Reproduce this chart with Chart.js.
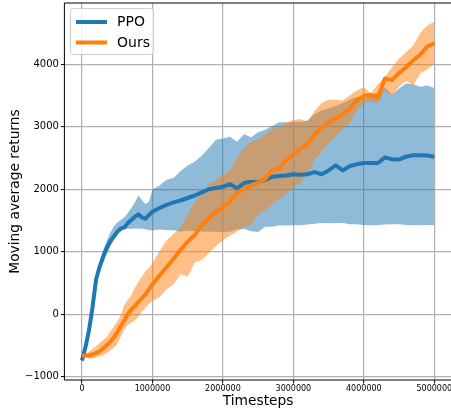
<!DOCTYPE html>
<html><head><meta charset="utf-8">
<script src="https://cdn.jsdelivr.net/npm/chart.js@4"></script>
<style>
html,body{margin:0;padding:0;overflow:hidden;background:#fff;width:451px;height:414px}
#wrap{position:absolute;left:0;top:0;width:480px;height:414px}
</style>
</head><body><div id="wrap"><canvas id="c" width="480" height="414"></canvas></div>
<script>
const timesteps = [0,50000,100000,150000,200000,250000,300000,350000,400000,450000,500000,550000,600000,650000,700000,750000,800000,850000,900000,950000,1000000,
1100000,1200000,1300000,1400000,1500000,1600000,1700000,1800000,1900000,2000000,2100000,2200000,2300000,2400000,2500000,2600000,2700000,2800000,2900000,3000000,
3100000,3200000,3300000,3400000,3500000,3600000,3700000,3800000,3900000,4000000,4100000,4200000,4300000,4400000,4500000,4600000,4700000,4800000,4900000,5000000];

const ppoMean = [-740,-520,-250,120,560,760,920,1060,1170,1240,1320,1370,1390,1460,1510,1560,1600,1550,1530,1590,1640,
1700,1750,1790,1820,1860,1900,1950,2000,2020,2040,2080,2015,2100,2120,2110,2150,2200,2210,2220,2240,
2230,2240,2275,2240,2300,2380,2300,2370,2400,2420,2420,2420,2510,2480,2475,2520,2545,2545,2540,2520];
const ppoHigh = [-700,-470,-180,200,640,850,1020,1170,1300,1400,1470,1510,1550,1620,1700,1790,1900,1830,1760,1800,2000,
2060,2150,2180,2290,2380,2440,2540,2660,2790,2810,2840,2760,2880,2830,2910,2950,3010,3070,3070,3070,
3080,3100,3200,3260,3290,3330,3380,3430,3480,3450,3500,3550,3630,3510,3610,3690,3680,3640,3660,3620];
const ppoLow = [-780,-580,-320,50,480,670,830,960,1080,1180,1300,1350,1365,1370,1370,1372,1370,1370,1360,1345,1345,
1355,1350,1345,1320,1340,1330,1325,1320,1320,1315,1320,1360,1365,1330,1315,1400,1400,1425,1420,1425,
1425,1435,1450,1460,1455,1462,1460,1440,1440,1430,1425,1425,1435,1440,1440,1430,1425,1425,1430,1425];

const oursMean = [-660,-660,-655,-642,-620,-590,-545,-496,-440,-370,-290,-190,-100,0,80,130,200,260,320,400,480,
620,757,890,1035,1160,1270,1420,1530,1640,1715,1800,1940,2010,2065,2100,2165,2310,2330,2470,2550,
2650,2720,2880,2990,3070,3130,3200,3290,3420,3490,3510,3470,3770,3745,3860,3950,4060,4150,4280,4335];
const oursHigh = [-640,-630,-600,-555,-510,-460,-410,-363,-280,-200,-120,-20,150,230,310,430,520,600,690,740,820,
1010,1180,1290,1390,1600,1800,1950,2080,2150,2230,2300,2510,2650,2760,2800,2880,2960,3000,3060,3110,
3120,3080,3250,3380,3430,3430,3420,3500,3580,3630,3530,3680,3800,3950,4090,4190,4300,4500,4620,4680];
const oursLow = [-680,-690,-705,-705,-690,-670,-650,-625,-580,-540,-480,-360,-240,-170,-130,-96,-40,40,100,170,210,
275,400,480,640,600,830,870,980,1090,1180,1260,1320,1390,1430,1600,1660,1760,1850,1930,2030,
2100,2250,2480,2600,2730,2850,2950,3060,3250,3380,3400,3380,3580,3500,3640,3730,3660,3850,3920,4000];

const seriesNames = ['PPO', 'Ours'];
const xTicks = [0, 1000000, 2000000, 3000000, 4000000, 5000000];
const yTicks = [-1000, 0, 1000, 2000, 3000, 4000];
const xTitle = 'Timesteps';
const yTitle = 'Moving average returns';

const BLUE = '#1f77b4', ORANGE = '#ff7f0e';
const FONT = 'DejaVu Sans';
Chart.defaults.font.family = FONT;

const pts = arr => timesteps.map((t, i) => ({x: t, y: arr[i]}));
const bandSet = (arr, color, fillTarget, order) => ({
  label: '', data: pts(arr), borderWidth: 0, borderColor: 'rgba(0,0,0,0)',
  pointRadius: 0, backgroundColor: color, fill: fillTarget, order: order, tension: 0
});
const lineSet = (name, arr, color, order) => ({
  label: name, data: pts(arr), borderWidth: 4, borderColor: color, backgroundColor: color,
  pointRadius: 0, fill: false, order: order, tension: 0, borderJoinStyle: 'round', borderCapStyle: 'butt'
});

const framePlugin = {
  id: 'frame',
  afterDatasetsDraw(chart) {
    const {ctx, chartArea: a} = chart;
    ctx.save();
    ctx.strokeStyle = '#000';
    ctx.lineWidth = 1;
    ctx.beginPath();
    ctx.moveTo(a.left, a.bottom); ctx.lineTo(a.left, a.top);
    ctx.lineTo(a.right, a.top); ctx.lineTo(a.right, a.bottom); ctx.closePath();
    ctx.stroke();
    ctx.restore();
  }
};

const legendPlugin = {
  id: 'boxLegend',
  afterDraw(chart) {
    const ctx = chart.ctx;
    const items = [chart.data.datasets[4], chart.data.datasets[5]];
    ctx.save();
    const bx = 70.5, by = 8.5, bw = 83, bh = 46, r = 3;
    ctx.beginPath();
    ctx.moveTo(bx + r, by); ctx.lineTo(bx + bw - r, by); ctx.arcTo(bx + bw, by, bx + bw, by + r, r);
    ctx.lineTo(bx + bw, by + bh - r); ctx.arcTo(bx + bw, by + bh, bx + bw - r, by + bh, r);
    ctx.lineTo(bx + r, by + bh); ctx.arcTo(bx, by + bh, bx, by + bh - r, r);
    ctx.lineTo(bx, by + r); ctx.arcTo(bx, by, bx + r, by, r); ctx.closePath();
    ctx.fillStyle = 'rgba(255,255,255,0.8)'; ctx.fill();
    ctx.strokeStyle = '#cccccc'; ctx.lineWidth = 1; ctx.stroke();
    items.forEach((ds, i) => {
      const y = 22 + i * 20.5;
      ctx.strokeStyle = ds.borderColor; ctx.lineWidth = 4; ctx.lineCap = 'butt';
      ctx.beginPath(); ctx.moveTo(76, y); ctx.lineTo(107, y); ctx.stroke();
      ctx.fillStyle = '#000'; ctx.font = '14px "' + FONT + '"';
      ctx.textBaseline = 'middle'; ctx.textAlign = 'left';
      ctx.fillText(ds.label, 117, y + 0.5);
    });
    ctx.restore();
  }
};

const fmt = v => (v < 0 ? '\u2212' + Math.abs(v) : String(v));

new Chart(document.getElementById('c'), {
  type: 'line',
  data: {
    datasets: [
      bandSet(ppoHigh, 'rgba(31,119,180,0.5)', 1, 4),
      bandSet(ppoLow, 'rgba(0,0,0,0)', false, 4),
      bandSet(oursHigh, 'rgba(255,127,14,0.5)', 3, 3),
      bandSet(oursLow, 'rgba(0,0,0,0)', false, 3),
      lineSet(seriesNames[0], ppoMean, BLUE, 2),
      lineSet(seriesNames[1], oursMean, ORANGE, 1)
    ]
  },
  options: {
    responsive: false, animation: false, devicePixelRatio: 1,
    layout: {padding: {left: 0, top: 3, right: 28.1, bottom: 0}},
    plugins: {legend: {display: false}, tooltip: {enabled: false}, filler: {propagate: false}},
    scales: {
      x: {
        type: 'linear', min: -250000, max: 5250000,
        afterBuildTicks: s => { s.ticks = xTicks.map(v => ({value: v})); },
        afterFit: s => { s.height = 34; s.paddingLeft = 0; s.paddingRight = 0; },
        ticks: {autoSkip: false, maxRotation: 0, minRotation: 0, padding: 1, color: '#000',
                font: {family: FONT, size: 8}, callback: v => fmt(v)},
        grid: {color: '#b0b0b0', lineWidth: 1.2, tickColor: '#000', tickLength: 3.5, tickWidth: 1},
        border: {display: false},
        title: {display: true, text: xTitle, color: '#000', font: {family: FONT, size: 13.8},
                padding: {top: 0, bottom: 4.7}}
      },
      y: {
        type: 'linear', min: -1050, max: 4978,
        afterBuildTicks: s => { s.ticks = yTicks.map(v => ({value: v})); },
        afterFit: s => { s.width = 64.4; s.paddingTop = 0; s.paddingBottom = 0; },
        ticks: {padding: 2, color: '#000', font: {family: FONT, size: 10}, callback: v => fmt(v)},
        grid: {color: '#b0b0b0', lineWidth: 1.2, tickColor: '#000', tickLength: 3.5, tickWidth: 1},
        border: {display: false},
        title: {display: true, text: yTitle, color: '#000', font: {family: FONT, size: 13.8},
                padding: {top: 6.9, bottom: 0}}
      }
    }
  },
  plugins: [framePlugin, legendPlugin]
});
</script>
</body></html>
